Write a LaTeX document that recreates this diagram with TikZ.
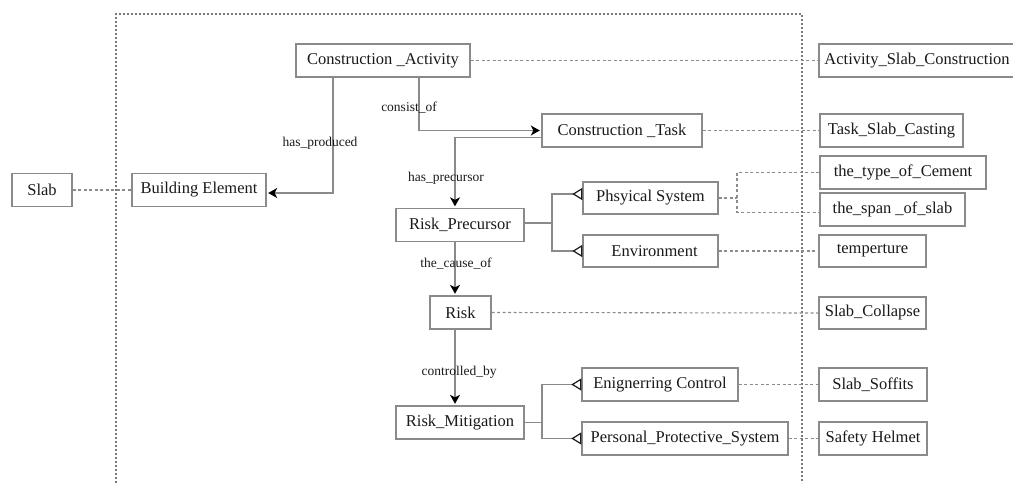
\documentclass[tikz,border=0pt]{standalone}
\usepackage{fontspec}
\setmainfont{Liberation Serif}
\usetikzlibrary{arrows.meta}
\definecolor{edge}{HTML}{8A8A8A}
\definecolor{ink}{HTML}{1A1A1A}
\definecolor{dots}{HTML}{8C8C8C}
\begin{document}
\begin{tikzpicture}[x=1pt,y=-1pt,
  box/.style={draw=edge, line width=1.4pt, fill=white, text=ink, inner sep=0pt,
    minimum height=33pt, font=\fontsize{16.5}{19}\selectfont},
  rel/.style={draw=edge, line width=1.3pt, shorten >=1.5pt,
    -{Stealth[length=9pt,width=10pt,inset=2.5pt,color=black]}},
  isa/.style={draw=edge, line width=1.3pt,
    -{Triangle[open,reversed,length=10pt,width=12pt,color=ink,line width=1.2pt]}},
  inst/.style={draw=dots, line width=1.1pt, dash pattern=on 3pt off 2.5pt},
  frame/.style={draw=dots!85!black, line width=1.6pt, dash pattern=on 2pt off 2pt},
  lbl/.style={text=ink, inner sep=0pt, font=\fontsize{13.5}{15}\selectfont}
]
\useasboundingbox (0,0) rectangle (1013,483);

% class boxes
\node[box, minimum width=174pt] (ca)   at (383,60.5)   {Construction \_Activity};
\node[box, minimum width=134pt] (be)   at (199,190)    {Building Element};
\node[box, minimum width=60pt]  (slab) at (42,190)     {Slab};
\node[box, minimum width=160pt] (ct)   at (622,130.5)  {Construction \_Task};
\node[box, minimum width=128pt] (rp)   at (460,225)    {Risk\_Precursor};
\node[box, minimum width=61pt]  (risk) at (460.5,312.5){Risk};
\node[box, minimum width=128pt] (rm)   at (460,422.5)  {\raisebox{4pt}{Risk\_Mitigation}};
\node[box, minimum width=135pt, minimum height=32pt] (phs) at (650.5,198) {Phsyical System};
\node[box, minimum width=135pt, minimum height=32pt] (env) at (650.5,251) {\hspace*{8pt}Environment};
\node[box, minimum width=156pt] (ec)   at (660,384.5)  {Enignerring Control};
\node[box, minimum width=206pt] (pps)  at (685,438.5)  {Personal\_Protective\_System};

% instance boxes
\node[box, minimum width=196pt] (asc)  at (917,60.5)   {Activity\_Slab\_Construction};
\node[box, minimum width=143pt] (tsc)  at (891.5,130.5){Task\_Slab\_Casting};
\node[box, minimum width=166pt] (toc)  at (903,172.5)  {the\_type\_of\_Cement};
\node[box, minimum width=145pt] (sos)  at (892.5,209.5){the\_span \_of\_slab};
\node[box, minimum width=107pt, minimum height=32pt] (tmp) at (872.5,251) {temperture};
\node[box, minimum width=107pt, minimum height=32pt] (sc)  at (872.5,313) {Slab\_Collapse};
\node[box, minimum width=108pt] (ss)   at (873,384.5)  {Slab\_Soffits};
\node[box, minimum width=108pt] (sh)   at (873,438.5)  {Safety Helmet};

% frame around the ontology
\coordinate (fbl) at (116,483);
\coordinate (ftl) at (116,14);
\coordinate (ftr) at (802,14);
\coordinate (fbr) at (802,483);
\draw[frame] (fbl) -- (ftl) -- (ftr) -- (fbr);

% object properties
\coordinate (spine) at (455,0);
\draw[rel] ([xshift=-50pt]ca.south) |- ([yshift=-3pt]be.east);
\draw[rel] ([xshift=36pt]ca.south) |- (ct.west);
\draw[rel] ([yshift=-7pt]ct.west) -| (rp.north -| spine);
\draw[rel] (rp.south -| spine) -- (risk.north -| spine);
\draw[rel] (risk.south -| spine) -- (rm.north -| spine);

\node[lbl] (l1) at (320,143) {has\_produced};
\node[lbl] (l2) at (409,108) {consist\_of};
\node[lbl] (l3) at (446,178) {has\_precursor};
\node[lbl] (l4) at (456,264) {the\_cause\_of};
\node[lbl] (l5) at (459,372) {controlled\_by};

% sub-classes
\coordinate (jp) at (552,0);
\draw[isa] ([yshift=2pt]rp.east) -- ([yshift=2pt]rp.east -| jp) |- ([yshift=4pt]phs.west);
\draw[isa] ([yshift=2pt]rp.east -| jp) |- (env.west);
\coordinate (jm) at (542,0);
\draw[isa] (rm.east) -- (rm.east -| jm) |- (ec.west);
\draw[isa] (rm.east -| jm) |- (pps.west);

% instances
\draw[inst] (slab.east) -- (be.west);
\draw[inst] (ca.east) -- (asc.west);
\draw[inst] (ct.east) -- (tsc.west);
\coordinate (jc) at (737,198);
\draw[inst] (phs.east) -- (jc);
\draw[inst] (toc.west) -| (jc) |- ([yshift=-3pt]sos.west);
\draw[inst] (env.east) -- (tmp.west);
\draw[inst] (risk.east) -- (sc.west);
\draw[inst] (ec.east) -- (ss.west);
\draw[inst] (pps.east) -- (sh.west);
\end{tikzpicture}
\end{document}
